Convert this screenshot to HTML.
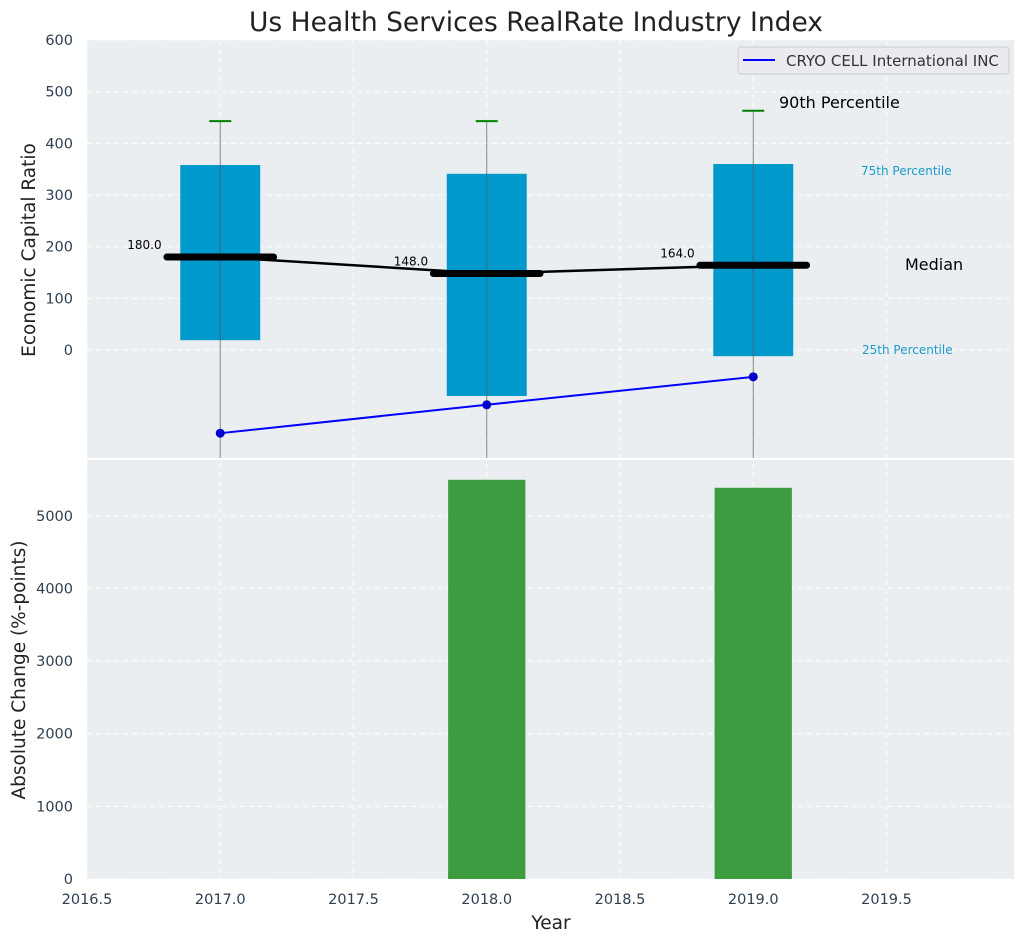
<!DOCTYPE html>
<html><head><meta charset="utf-8"><style>
body{margin:0;background:#fff;}
svg{display:block;font-family:"DejaVu Sans","Liberation Sans",sans-serif;}
</style></head><body>
<svg id="chart" width="1026" height="942" xmlns="http://www.w3.org/2000/svg">
<text x="536" y="31" font-size="26.5" text-anchor="middle" fill="#222">Us Health Services RealRate Industry Index</text>
<rect x="87" y="40" width="927" height="418" fill="#eaeef0"/>
<rect x="87" y="460" width="927" height="419" fill="#eaeef0"/>
<g id="grid"></g>
<g id="marks"></g>
<text transform="translate(35,250) rotate(-90)" font-size="18.5" text-anchor="middle" fill="#222">Economic Capital Ratio</text>
<text transform="translate(25,670) rotate(-90)" font-size="18.5" text-anchor="middle" fill="#222">Absolute Change (%-points)</text>
<text x="551" y="929" font-size="18.5" text-anchor="middle" fill="#222">Year</text>
<g>
<rect x="738" y="47" width="271" height="27" rx="3" fill="#eaeaf0" stroke="#ccc"/>
<line x1="743" y1="60" x2="775" y2="60" stroke="#0000ff" stroke-width="2"/>
<text x="786" y="66" font-size="15" fill="#333">CRYO CELL International INC</text>
</g>
<text x="779" y="108" font-size="16" fill="#000">90th Percentile</text>
<text x="861" y="175" font-size="12" fill="#1a9bcc">75th Percentile</text>
<text x="905" y="270" font-size="16" fill="#000">Median</text>
<text x="862" y="354" font-size="12" fill="#1a9bcc">25th Percentile</text>
</svg>
<script>
const years=[2017,2018,2019];
const p90=[443,443,463];
const p75=[358,341,360];
const p25=[19,-89,-12];
const medians=[180,148,164];
const company=[-161,-106,-52];
const changeYears=[2018,2019];
const changes=[5495,5385];
const xTicks=[2016.5,2017,2017.5,2018,2018.5,2019,2019.5];
const topTicks=[0,100,200,300,400,500,600];
const botTicks=[0,1000,2000,3000,4000,5000];

const NS="http://www.w3.org/2000/svg";
const x=v=>87+(v-2016.5)*266.5;
const yT=v=>350-v*0.5167;
const yB=v=>879-v*0.07265;
const grid=document.getElementById('grid'), marks=document.getElementById('marks'), svg=document.getElementById('chart');
function mk(p,tag,a){const e=document.createElementNS(NS,tag);for(const k in a)e.setAttribute(k,a[k]);p.appendChild(e);return e;}

xTicks.forEach(t=>{
  const g=mk(grid,'line',{x1:x(t),x2:x(t),y1:40,y2:879,stroke:'#fff','stroke-dasharray':'5,4','stroke-width':1});
  
  
  const l=mk(svg,'text',{x:x(t),y:904,'font-size':14.5,'text-anchor':'middle',fill:'#2e3e50'});
  l.textContent=t.toFixed(1);
  
  
});
topTicks.forEach(t=>{
  const g=mk(grid,'line',{x1:87,x2:1014,y1:yT(t),y2:yT(t),stroke:'#fff','stroke-dasharray':'5,4'});
  
  
  const l=mk(svg,'text',{x:73,y:yT(t)+5,'font-size':14.5,'text-anchor':'end',fill:'#2e3e50'});
  l.textContent=t;
  
  
});
botTicks.forEach(t=>{
  const g=mk(grid,'line',{x1:87,x2:1014,y1:yB(t),y2:yB(t),stroke:'#fff','stroke-dasharray':'5,4'});
  
  
  const l=mk(svg,'text',{x:73,y:yB(t)+5,'font-size':14.5,'text-anchor':'end',fill:'#2e3e50'});
  l.textContent=t;
  
  
});

years.forEach((yr,i)=>{
  const b=mk(marks,'rect',{x:x(yr-0.15),y:yT(p75[i]),width:0.3*266.5,height:yT(p25[i])-yT(p75[i]),fill:'#0099cc'});
  
  
  const w=mk(marks,'line',{x1:x(yr),x2:x(yr),y1:yT(p90[i]),y2:458,stroke:'#555','stroke-opacity':0.7,'stroke-width':1});
  
  
  const c=mk(marks,'line',{x1:x(yr)-11,x2:x(yr)+11,y1:yT(p90[i]),y2:yT(p90[i]),stroke:'#008000','stroke-width':2});
  
  
});
let pts=years.map((yr,i)=>x(yr)+','+yT(medians[i])).join(' ');
const ml=mk(marks,'polyline',{points:pts,fill:'none',stroke:'#000','stroke-width':2.5});


years.forEach((yr,i)=>{
  const m=mk(marks,'line',{x1:x(yr-0.2),x2:x(yr+0.2),y1:yT(medians[i]),y2:yT(medians[i]),stroke:'#000','stroke-width':7,'stroke-linecap':'round'});
  
  
  const t=mk(marks,'text',{x:x(yr-0.22),y:yT(medians[i])-8,'font-size':12,'text-anchor':'end',fill:'#000'});
  t.textContent=medians[i].toFixed(1);
  
  
});
pts=years.map((yr,i)=>x(yr)+','+yT(company[i])).join(' ');
const cl=mk(marks,'polyline',{points:pts,fill:'none',stroke:'#0000ff','stroke-width':2});


years.forEach((yr,i)=>{
  const p=mk(marks,'circle',{cx:x(yr),cy:yT(company[i]),r:4.5,fill:'#0000cc'});
  
  
});
changeYears.forEach((yr,i)=>{
  const b=mk(marks,'rect',{x:x(yr-0.145),y:yB(changes[i]),width:0.29*266.5,height:yB(0)-yB(changes[i]),fill:'#2e9431','fill-opacity':0.92});
  
  
});
</script>
</body></html>
